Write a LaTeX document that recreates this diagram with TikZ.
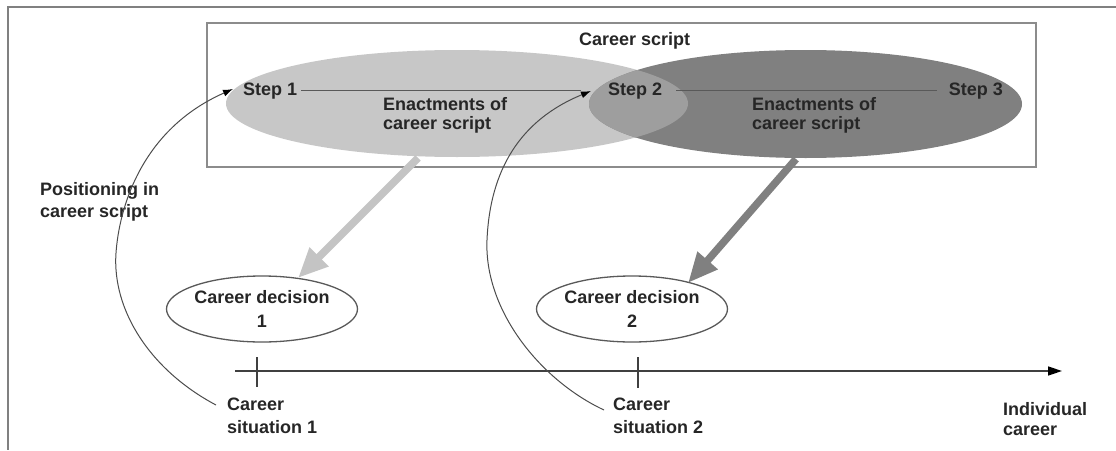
\documentclass[tikz,border=0pt]{standalone}
\usepackage{fontspec}
\setmainfont{Liberation Sans}
\usetikzlibrary{arrows.meta,shapes.geometric}
\definecolor{lightE}{gray}{0.78}
\definecolor{darkE}{gray}{0.50}
\definecolor{overlapE}{gray}{0.62}
\definecolor{lightA}{gray}{0.77}
\definecolor{darkA}{gray}{0.50}
\begin{document}
\begin{tikzpicture}[x=1pt,y=-1pt,
  font=\fontsize{18}{20}\selectfont\bfseries,
  lbl/.style={inner sep=0pt, text=black!85},
  multi/.style={lbl, align=left},
  stepline/.style={draw=black!65, line width=1.6pt},
  frame/.style={draw=black!50, line width=2pt},
  scriptbox/.style={draw=black!45, line width=1.5pt},
  bigell/.style={ellipse, inner sep=0pt},
  decision/.style={ellipse, draw=black!65, line width=1.3pt, inner sep=0pt,
    minimum width=169pt, minimum height=66pt, align=center, text=black!85,
    font=\fontsize{18}{24}\selectfont\bfseries},
  curvearrow/.style={draw=black!70, line width=1pt, -{Latex[length=10pt,width=7pt,black]}},
  fatarrow/.style={line width=7.5pt, -{Triangle[length=30pt,width=25pt]}},
  axisline/.style={draw=black!75, line width=1.6pt, -{Triangle[length=14pt,width=9pt,black]}},
  tickline/.style={draw=black!75, line width=1.2pt}
]
\useasboundingbox (0,0) rectangle (1116,450);
% outer frame (top and left edges)
\draw[frame] (1116,7) -- (8,7) -- (8,450);
% career script box
\draw[scriptbox] (207,23) rectangle (1036,167);
% enactment ellipses
\node[bigell, fill=lightE, minimum width=462pt, minimum height=107pt] (E1) at (457,103.5) {};
\node[bigell, fill=darkE, minimum width=433pt, minimum height=108pt] (E2) at (805.5,104) {};
\begin{scope}
  \clip (457,103.5) ellipse [x radius=231pt, y radius=53.5pt];
  \fill[overlapE] (805.5,104) ellipse [x radius=216.5pt, y radius=54pt];
\end{scope}
% labels in box
\node[lbl, anchor=north west] (cscript) at (579,32) {Career script};
\node[lbl, anchor=base west] (s1) at (243,95) {Step 1};
\node[lbl, anchor=base west] (s2) at (608,95) {Step 2};
\node[lbl, anchor=base east] (s3) at (1003,95) {Step 3};
\draw[stepline] ([xshift=4pt]s1.east) -- ([xshift=-27pt]s2.west);
\draw[stepline] ([xshift=14pt]s2.east) -- ([xshift=-12pt]s3.west);
\node[multi, anchor=north west, font=\fontsize{18}{19}\selectfont\bfseries] (en1) at (383,97) {Enactments of\\career script};
\node[multi, anchor=north west, font=\fontsize{18}{19}\selectfont\bfseries] (en2) at (752,97) {Enactments of\\career script};
% left label
\node[multi, anchor=north west, font=\fontsize{18}{22}\selectfont\bfseries] (pos) at (40,182) {Positioning in\\career script};
% decisions
\node[decision] (cd1) at (262,309) {Career decision\\1};
\node[decision] (cd2) at (632,309) {Career decision\\2};
% time axis
\coordinate (ax0) at (235,371);
\coordinate (ax1) at (1062,371);
\draw[axisline] (ax0) -- (ax1);
\draw[tickline] (257,357) -- (257,387);
\draw[tickline] (638,357) -- (638,388);
% situations
\node[multi, anchor=north west, font=\fontsize{18}{23}\selectfont\bfseries] (cs1) at (227,398) {Career\\situation 1};
\node[multi, anchor=north west, font=\fontsize{18}{23}\selectfont\bfseries] (cs2) at (613,398) {Career\\situation 2};
\node[multi, anchor=north west, font=\fontsize{18}{20}\selectfont\bfseries] (ind) at (1003,402) {Individual\\career};
% positioning curves
\coordinate (c1) at (216,405);
\coordinate (t1) at (233,89);
\coordinate (c2) at (604,410);
\coordinate (t2) at (591,91);
\draw[curvearrow] (c1) .. controls (150,370) and (112,310) .. (116,253)
  .. controls (119,210) and (140,130) .. (t1);
\draw[curvearrow] (c2) .. controls (540,380) and (484,310) .. (487,240)
  .. controls (490,170) and (520,120) .. (t2);
% enactment arrows
\coordinate (la0) at (418,158);
\coordinate (la1) at (298,278);
\coordinate (da0) at (796,159);
\coordinate (da1) at (688,283);
\draw[fatarrow, lightA] (la0) -- (la1);
\draw[fatarrow, darkA] (da0) -- (da1);
\end{tikzpicture}
\end{document}
